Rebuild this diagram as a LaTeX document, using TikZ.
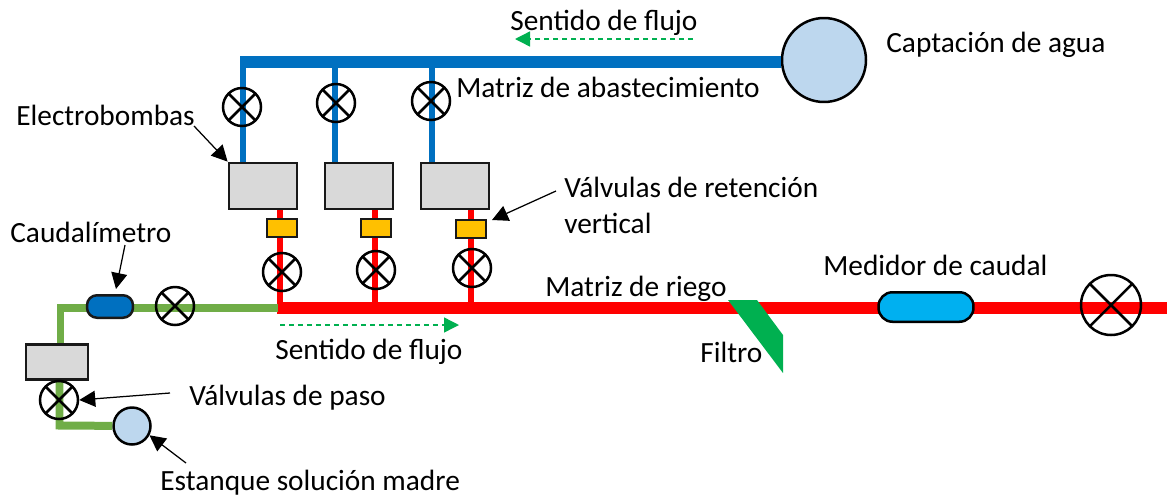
\documentclass[tikz,border=0pt]{standalone}
\usepackage{fontspec}
\setmainfont{Carlito}
\usetikzlibrary{arrows.meta}
\definecolor{azul}{HTML}{0070C0}
\definecolor{celeste}{HTML}{BDD7EE}
\definecolor{cian}{HTML}{00B0F0}
\definecolor{verdeclaro}{HTML}{70AD47}
\definecolor{verde}{HTML}{00B050}
\definecolor{gris}{HTML}{D9D9D9}
\definecolor{ambar}{HTML}{FFC000}
\tikzset{
	valvula/.style={circle,draw=black,line width=0.05cm,minimum size=#1,inner sep=0,
		path picture={\draw[line width=0.05cm] (path picture bounding box.north west)--(path picture bounding box.south east)
		(path picture bounding box.north east)--(path picture bounding box.south west);}},
	valvula/.default=0.76cm,
	bomba/.style={rectangle,draw=black!90,line width=0.055cm,fill=gris,inner sep=0},
	retencion/.style={rectangle,draw=black!90,line width=0.055cm,fill=ambar,inner sep=0,minimum width=0.6cm,minimum height=0.36cm},
	medidor/.style={rectangle,rounded corners=0.28cm,draw=black,line width=0.05cm,inner sep=0},
	estanque/.style={circle,draw=black,line width=0.05cm,fill=celeste,inner sep=0},
	etiqueta/.style={anchor=base west,inner sep=0,font=\fontsize{16.7}{20.4}\selectfont},
	flecha/.style={-{Triangle[length=0.32cm,width=0.32cm]},line width=0.025cm},
	sentido/.style={-{Triangle[length=0.3cm,width=0.3cm]},verde,dash pattern=on 0.1cm off 0.08cm,line width=0.028cm}
}
\begin{document}
\begin{tikzpicture}[x=0.02cm,y=-0.02cm]
	\useasboundingbox (0,0) rectangle (1167,498);
	
	%CAPTACION
	\node[estanque,minimum size=1.68cm] (captacion) at (824,60) {};
	\coordinate (abast) at (240,62);
	\draw[azul,line width=0.24cm] (abast)--(abast-|captacion.west);
	
	%BOMBAS, RETENCION Y VALVULAS
	\foreach \n/\xb/\xa/\xr/\xv/\yv/\xw/\yw/\xy/\yy in {
		1/263/243/280/242/107/282/272/282/228,
		2/359/335/375/336/103/376/270/376/228,
		3/455/432/471/431/101/472/268/471/229}{
		\node[bomba,minimum width=1.36cm,minimum height=0.92cm] (eb\n) at (\xb,186) {};
		\coordinate (ba\n) at (\xa,62);
		\coordinate (ro\n) at (\xr,308);
		\draw[azul,line width=0.11cm] (ba\n)--(ba\n|-eb\n.north);
		\draw[red,line width=0.11cm] (ro\n)--(ro\n|-eb\n.south);
		\node[valvula] (va\n) at (\xv,\yv) {};
		\node[valvula] (vr\n) at (\xw,\yw) {};
		\node[retencion] (re\n) at (\xy,\yy) {};
	}
	
	%MATRIZ DE RIEGO
	\coordinate (riego) at (277,308);
	\coordinate (fin) at (1167,308);
	\draw[red,line width=0.24cm] (riego)--(fin);
	\node[medidor,fill=cian,minimum width=1.9cm,minimum height=0.59cm] (caudal) at (926,307) {};
	\node[valvula=1.2cm] (vfin) at (1111,305) {};
	\fill[verde] (728,300)--(757,300)--(783,335)--(783,373)--cycle;	%filtro
	
	%LINEA DE SOLUCION MADRE
	\coordinate (codo1) at (60.5,307.5);
	\coordinate (codo2) at (59.5,425.5);
	\node[bomba,minimum width=1.24cm,minimum height=0.7cm] (eb4) at (57,362) {};
	\node[estanque,minimum size=0.74cm] (madre) at (132,426) {};
	\draw[verdeclaro,line width=0.16cm] (eb4.north-|codo1)--(codo1)--(278,307.5);
	\draw[verdeclaro,line width=0.16cm] (eb4.south-|codo2)--(codo2)--(madre);
	\node[medidor,draw=black!90,fill=azul,rounded corners=0.2cm,minimum width=0.92cm,minimum height=0.45cm] (cm) at (110,306.5) {};
	\node[valvula] (vm1) at (175,306) {};
	\node[valvula] (vm2) at (59,400) {};
	
	%LABELS
	\node[etiqueta] (ls1) at (510,30) {Sentido de flujo};
	\node[etiqueta] (lcap) at (886,52) {Captación de agua};
	\node[etiqueta] (labast) at (456,97) {Matriz de abastecimiento};
	\node[etiqueta] (lelec) at (16,125) {Electrobombas};
	\node[etiqueta,align=left,anchor=north west] (lret) at (564,177) {Válvulas de retención\\vertical};
	\node[etiqueta] (lcm) at (10,242) {Caudalímetro};
	\node[etiqueta] (lriego) at (545,296) {Matriz de riego};
	\node[etiqueta] (lmed) at (823,275) {Medidor de caudal};
	\node[etiqueta] (ls2) at (275,359) {Sentido de flujo};
	\node[etiqueta] (lfil) at (700,362) {Filtro};
	\node[etiqueta] (lpaso) at (189,405) {Válvulas de paso};
	\node[etiqueta] (lest) at (160,490) {Estanque solución madre};
	
	%FLECHAS
	\coordinate (s1a) at (693,39);
	\coordinate (s1b) at (515,39);
	\coordinate (s2a) at (280,325);
	\coordinate (s2b) at (459,325);
	\draw[sentido] (s1a)--(s1b);
	\draw[sentido] (s2a)--(s2b);
	\coordinate (felec) at (194,126);
	\coordinate (fret) at (556,191);
	\coordinate (tret) at (492,220);
	\coordinate (fcm) at (125,245);
	\coordinate (tcm) at (116,289);
	\coordinate (fpaso) at (170,393);
	\coordinate (fest) at (186,463);
	\draw[flecha] (felec)--(eb1.north west);
	\draw[flecha] (fret)--(tret);
	\draw[flecha] (fcm)--(tcm);
	\draw[flecha] (fpaso)--(vm2.east);
	\draw[flecha] (fest)--(madre.-28);
\end{tikzpicture}
\end{document}
